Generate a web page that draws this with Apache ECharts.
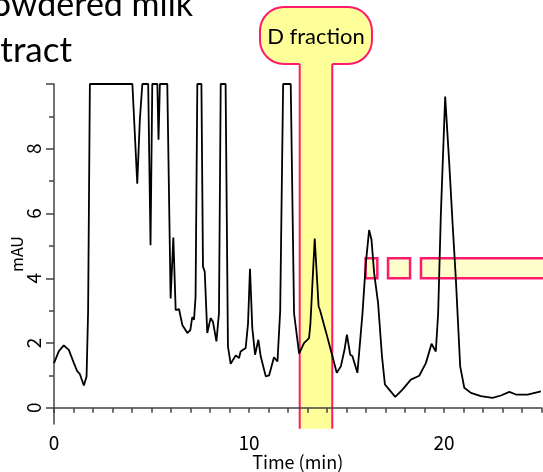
<!DOCTYPE html>
<html>
<head>
<meta charset="utf-8">
<script src="https://cdn.jsdelivr.net/npm/echarts@6/dist/echarts.min.js"></script>
<style>
  html, body { margin: 0; padding: 0; background: #fff; }
  #main { width: 543px; height: 472px; }
</style>
</head>
<body>
<div id="main"></div>
<script>
// chromatogram (min, mAU); detector saturates at 10
var times = [
  0.00, 0.25, 0.50, 0.76, 1.02, 1.19, 1.25, 1.32, 1.53, 1.67, 1.75, 1.84,
  4.02, 4.27, 4.40, 4.53, 4.83, 4.95, 5.04, 5.30, 5.36, 5.43, 5.81,
  5.98, 6.12, 6.24, 6.41, 6.58, 6.84, 6.99, 7.09, 7.18, 7.26, 7.35,
  7.56, 7.64, 7.73, 7.86, 8.03, 8.15, 8.33, 8.46, 8.55,
  8.80, 8.92, 9.06, 9.32, 9.49, 9.57, 9.83, 9.95, 10.05, 10.17, 10.31,
  10.48, 10.60, 10.86, 11.03, 11.28, 11.46, 11.60, 11.75,
  12.14, 12.31, 12.57, 12.82, 13.08, 13.15, 13.37, 13.57, 13.64, 13.94,
  14.19, 14.50, 14.71, 14.90, 15.02, 15.19, 15.30, 15.56, 15.82, 15.99,
  16.16, 16.28, 16.42, 16.62, 16.82, 16.97, 17.19, 17.50, 17.87, 18.30,
  18.73, 19.07, 19.36, 19.58, 19.70, 19.84, 20.06, 20.27, 20.44, 20.61,
  20.83, 21.04, 21.38, 21.89, 22.49, 22.92, 23.35, 23.69, 24.29, 24.97
];
var absorbance = [
  1.38, 1.75, 1.93, 1.79, 1.38, 1.13, 1.16, 1.05, 0.69, 0.97, 3.00, 10,
  10, 6.92, 8.87, 10, 10, 5.02, 10, 10, 8.28, 10, 10,
  3.38, 5.26, 3.02, 3.05, 2.56, 2.31, 2.40, 2.80, 2.72, 3.43, 10,
  10, 4.36, 4.20, 2.31, 2.77, 2.66, 2.05, 2.92, 10,
  10, 1.90, 1.36, 1.62, 1.54, 1.74, 1.85, 2.60, 4.29, 2.46, 1.64,
  2.10, 1.59, 0.97, 1.00, 1.56, 1.43, 3.00, 10,
  10, 2.92, 1.67, 2.00, 2.15, 2.60, 5.23, 3.13, 3.02, 2.36,
  1.79, 1.08, 1.28, 1.80, 2.26, 1.64, 1.60, 1.08, 2.92, 4.46,
  5.49, 5.20, 4.15, 3.23, 1.59, 0.72, 0.56, 0.34, 0.56, 0.87,
  0.99, 1.38, 1.98, 1.74, 2.92, 6.00, 9.61, 7.54, 5.69, 3.95,
  1.28, 0.62, 0.46, 0.36, 0.31, 0.38, 0.49, 0.41, 0.41, 0.51
];

var xLabels = [0, 10, 20];
var yLabels = [0, 2, 4, 6, 8];
var yMajorTicks = [0, 2, 4, 6, 8, 10];
var yMinorTicks = [1, 3, 5, 7, 9];

// collected fraction (min) and the other fraction windows (min), band height (mAU)
var dFraction = [12.6, 14.27];
var otherFractions = [[15.98, 16.58], [17.13, 18.26], [18.82, 25.4]];
var fractionBand = [4.0, 4.62];

var PINK = '#FF1A6E';
var axisColor = '#444';
var labelFont = 'Noto Sans CJK JP';

var chart = echarts.init(document.getElementById('main'));

chart.setOption({
  animation: false,
  backgroundColor: '#fff',
  grid: { left: 54, right: 1.5, top: 84, bottom: 48, outerBoundsMode: 'none', containLabel: false },
  xAxis: {
    type: 'value',
    min: 0,
    max: 25,
    interval: 1,
    z: 3,
    name: 'Time (min)',
    nameLocation: 'middle',
    nameGap: 29,
    nameMoveOverlap: false,
    nameTextStyle: { fontFamily: labelFont, fontSize: 18, color: '#000' },
    axisLine: { show: true, lineStyle: { color: axisColor, width: 1.5 } },
    axisTick: { show: true, length: 5, lineStyle: { color: axisColor, width: 1.5 } },
    axisLabel: {
      customValues: xLabels,
      margin: 9,
      fontFamily: labelFont,
      fontSize: 19,
      color: '#000'
    },
    splitLine: { show: false }
  },
  yAxis: [
    {
      type: 'value',
      min: -0.5,
      max: 10,
      position: 'left',
      z: 3,
      name: 'mAU',
      nameLocation: 'middle',
      nameGap: 29,
      nameMoveOverlap: false,
      nameTextStyle: { fontFamily: labelFont, fontSize: 16, color: '#000' },
      axisLine: { show: true, lineStyle: { color: axisColor, width: 1.5 } },
      axisTick: { show: true, customValues: yMajorTicks, length: 8, lineStyle: { color: axisColor, width: 1.5 } },
      axisLabel: {
        customValues: yLabels,
        rotate: 90,
        margin: 11,
        fontFamily: labelFont,
        fontSize: 19,
        color: '#000'
      },
      splitLine: { show: false }
    },
    {
      type: 'value',
      min: -0.5,
      max: 10,
      position: 'left',
      offset: 0,
      z: 3,
      axisLine: { show: false },
      axisTick: { show: true, customValues: yMinorTicks, length: 5, lineStyle: { color: axisColor, width: 1.5 } },
      axisLabel: { show: false },
      splitLine: { show: false }
    }
  ],
  series: [
    {
      type: 'line',
      yAxisIndex: 0,
      z: 5,
      showSymbol: false,
      data: times.map(function (t, i) { return [t, absorbance[i]]; }),
      lineStyle: { color: '#000', width: 1.8 }
    }
  ]
});

function px(x, y) {
  return chart.convertToPixel({ gridIndex: 0 }, [x, y]);
}

var stemL = px(dFraction[0], 0)[0];
var stemR = px(dFraction[1], 0)[0];
var stemBottom = px(0, -0.65)[1];
var stemMid = (stemL + stemR) / 2;
var pillW = 112, pillH = 57, pillTop = 7;

var graphics = [
  {
    type: 'rect', z: 0,
    shape: { x: stemMid - pillW / 2, y: pillTop, width: pillW, height: pillH, r: 24 },
    style: { fill: '#FFFF99', stroke: PINK, lineWidth: 2 }
  },
  {
    type: 'rect', z: 0,
    shape: { x: stemL, y: pillTop + pillH - 2, width: stemR - stemL, height: stemBottom - pillTop - pillH + 2 },
    style: { fill: '#FFFF99' }
  },
  {
    type: 'line', z: 0,
    shape: { x1: stemL, y1: pillTop + pillH, x2: stemL, y2: stemBottom },
    style: { stroke: PINK, lineWidth: 2 }
  },
  {
    type: 'line', z: 0,
    shape: { x1: stemR, y1: pillTop + pillH, x2: stemR, y2: stemBottom },
    style: { stroke: PINK, lineWidth: 2 }
  },
  {
    type: 'text', z: 1,
    x: stemMid, y: pillTop + pillH / 2 + 1,
    style: {
      text: 'D fraction', fill: '#000',
      font: '22px Lato, "Noto Sans", sans-serif',
      align: 'center', verticalAlign: 'middle'
    }
  },
  {
    type: 'text', z: 1,
    x: 193, y: 5,
    style: {
      text: 'Powdered milk', fill: '#000',
      font: '34px Lato, "Noto Sans", sans-serif',
      align: 'right', verticalAlign: 'middle'
    }
  },
  {
    type: 'text', z: 1,
    x: 72, y: 51,
    style: {
      text: 'extract', fill: '#000',
      font: '35px Lato, "Noto Sans", sans-serif',
      align: 'right', verticalAlign: 'middle'
    }
  }
];

otherFractions.forEach(function (f) {
  var a = px(f[0], fractionBand[1]);
  var b = px(f[1], fractionBand[0]);
  graphics.push({
    type: 'rect', z: 0,
    shape: { x: a[0], y: a[1], width: b[0] - a[0], height: b[1] - a[1] },
    style: { fill: '#FFFFCC', stroke: PINK, lineWidth: 2.5 }
  });
});

chart.setOption({ graphic: graphics });
</script>
</body>
</html>
